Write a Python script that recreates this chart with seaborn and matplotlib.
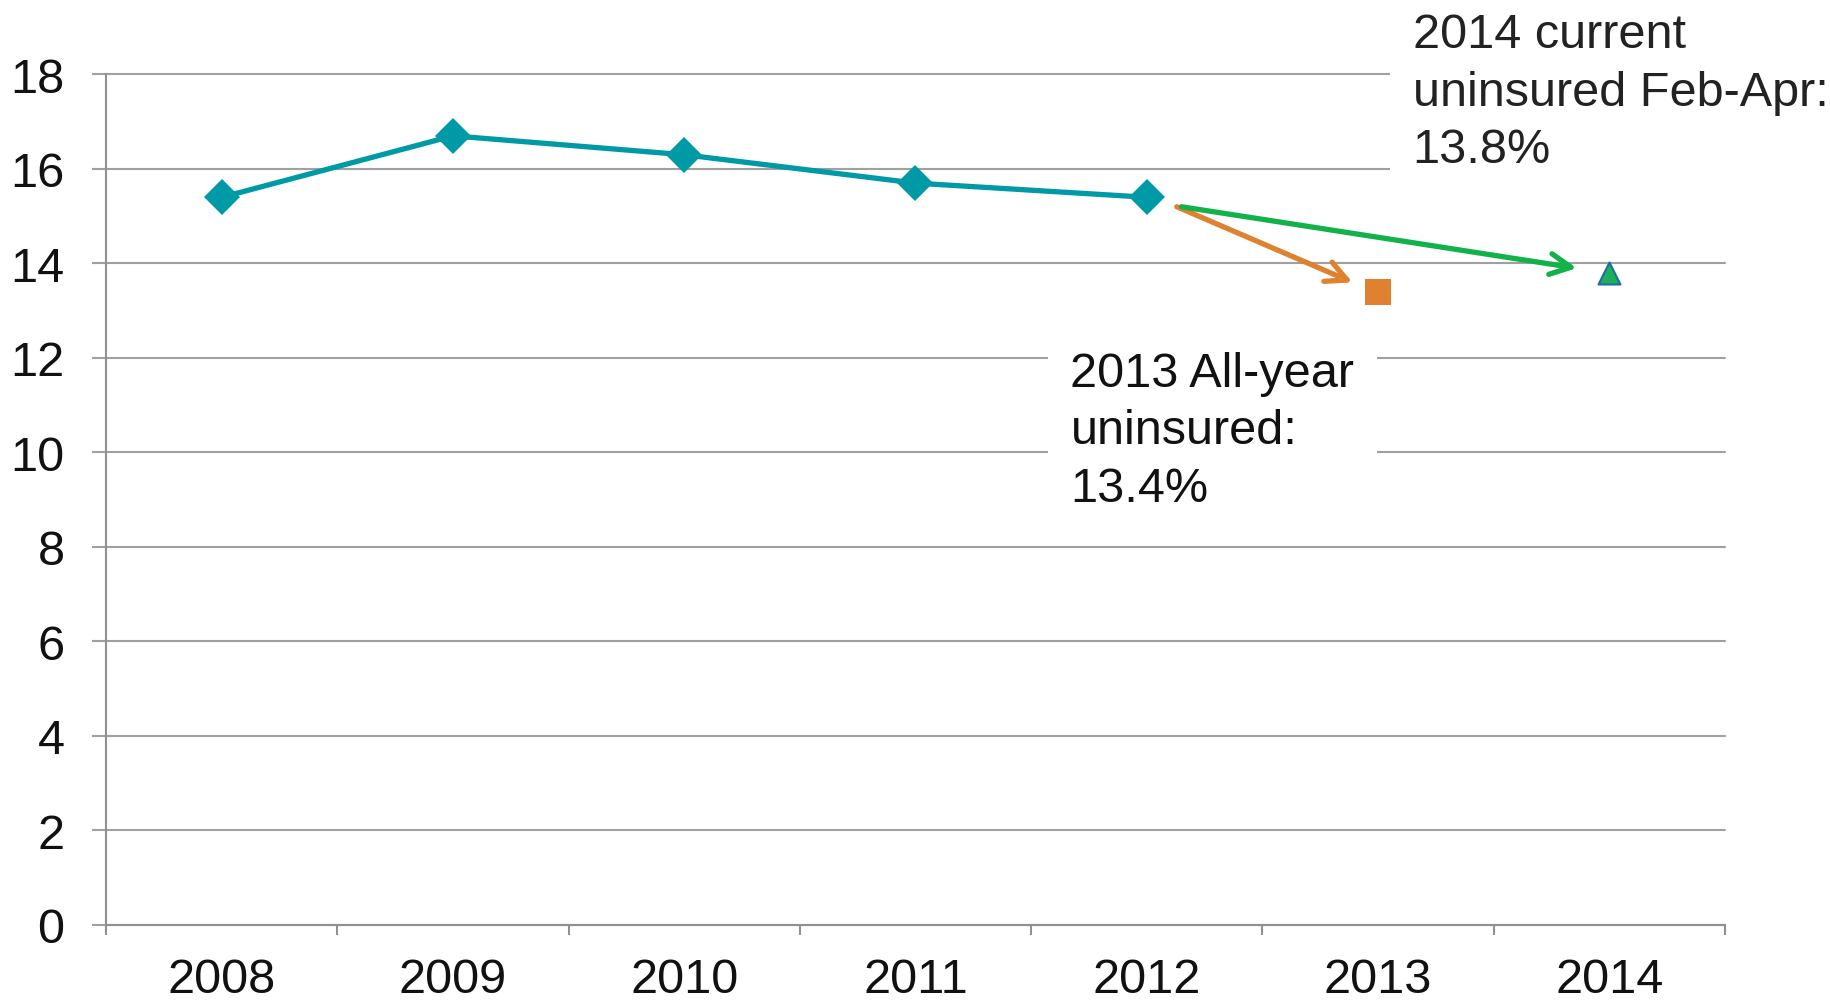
import pandas as pd
import matplotlib.pyplot as plt
import seaborn as sns

# Dados
anos = [2008, 2009, 2010, 2011, 2012]
sem_seguro = [15.4, 16.7, 16.3, 15.7, 15.4]
ano_2013 = [2013]
valor_2013 = [13.4]
ano_2014 = [2014]
valor_2014 = [13.8]
todos_anos = [2008, 2009, 2010, 2011, 2012, 2013, 2014]
yticks = [0, 2, 4, 6, 8, 10, 12, 14, 16, 18]

sns.set_style("white")
plt.rcParams["font.family"] = ["Liberation Sans", "DejaVu Sans"]

df = pd.DataFrame({"ano": anos, "valor": sem_seguro})
df13 = pd.DataFrame({"ano": ano_2013, "valor": valor_2013})
df14 = pd.DataFrame({"ano": ano_2014, "valor": valor_2014})

fig = plt.figure(figsize=(18.31, 10.03), dpi=100)
ax = fig.add_axes([0.058, 0.0768, 0.884, 0.848])

teal = "#0099A6"
sns.lineplot(data=df, x="ano", y="valor", color=teal, linewidth=3.8,
             marker="D", markersize=18, markeredgewidth=0, ax=ax)
sns.scatterplot(data=df13, x="ano", y="valor", color="#E0812F", marker="s",
                s=330, linewidth=0, ax=ax)
sns.scatterplot(data=df14, x="ano", y="valor", color="#1DAF5A", marker="^",
                s=250, edgecolor="#1C6EA4", linewidth=1.5, ax=ax, zorder=4)

# Setas
estilo = "->,head_length=1.5,head_width=0.75"
ax.annotate("", xy=(2012.89, 13.6), xytext=(2012.13, 15.2),
            arrowprops=dict(arrowstyle=estilo, color="#E0812F", lw=3.8,
                            shrinkA=0, shrinkB=0))
ax.annotate("", xy=(2013.86, 13.9), xytext=(2012.15, 15.2),
            arrowprops=dict(arrowstyle=estilo, color="#12B14A", lw=3.8,
                            shrinkA=0, shrinkB=0))

# Textos
caixa = dict(facecolor="white", edgecolor="none", pad=16)
ax.text(2011.67, 12.15, "2013 All-year\nuninsured:\n13.4%", fontsize=35,
        va="top", ha="left", color="#111111", bbox=caixa, linespacing=1.36,
        zorder=3)
ax.text(2013.15, 19.32, "2014 current\nuninsured Feb-Apr:\n13.8%", fontsize=35,
        va="top", ha="left", color="#222222", bbox=caixa, linespacing=1.36,
        zorder=3, clip_on=False)

# Eixos
ax.set_xlim(2007.5, 2014.5)
ax.set_ylim(0, 18)
ax.set_yticks(yticks)
ax.set_xticks(todos_anos)
ax.set_xticks([a - 0.5 for a in todos_anos] + [2014.5], minor=True)
ax.set_xlabel("")
ax.set_ylabel("")
ax.grid(axis="y", color="#A0A0A0", linewidth=1.5)
for linha in ax.get_ygridlines():
    linha.set_clip_on(False)
ax.set_axisbelow(True)
for lado in ["top", "right"]:
    ax.spines[lado].set_visible(False)
for lado in ["left", "bottom"]:
    ax.spines[lado].set_color("#909090")
    ax.spines[lado].set_linewidth(1.5)
ax.tick_params(axis="y", which="major", length=10, width=1.5, color="#A0A0A0",
               pad=20, labelsize=35, labelcolor="#111111", left=True)
ax.tick_params(axis="x", which="major", length=0, pad=23, labelsize=35,
               labelcolor="#111111")
ax.tick_params(axis="x", which="minor", length=7, width=1.5, color="#909090",
               bottom=True, direction="out")

plt.savefig("out.png", dpi=100)
